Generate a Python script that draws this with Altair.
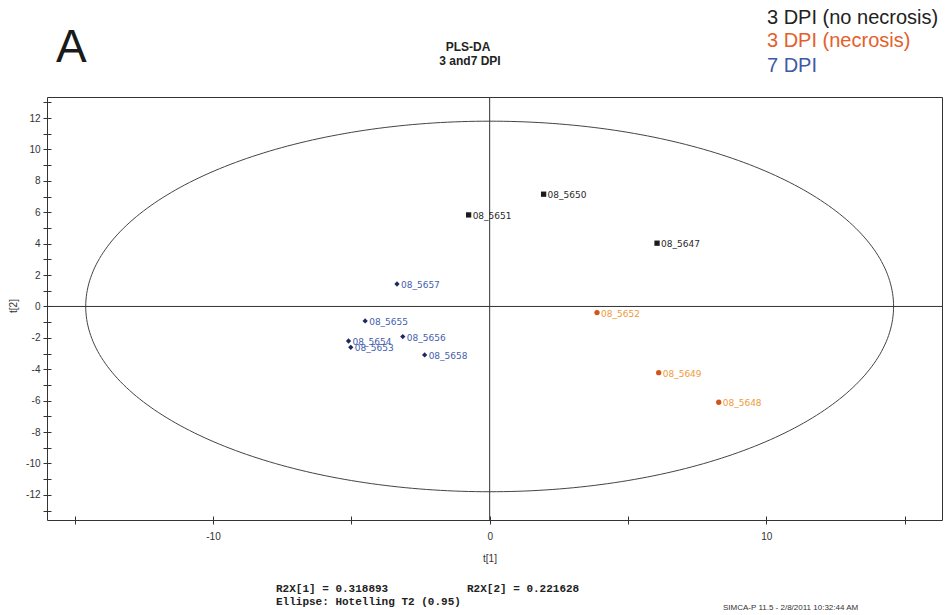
import altair as alt
import numpy as np
import pandas as pd

# Scores on the first two PLS-DA components
samples = ["08_5650", "08_5651", "08_5647",
           "08_5652", "08_5649", "08_5648",
           "08_5657", "08_5655", "08_5656", "08_5654", "08_5653", "08_5658"]
t1 = [1.95, -0.76, 6.05,
      3.88, 6.11, 8.28,
      -3.35, -4.50, -3.14, -5.10, -5.02, -2.35]
t2 = [7.15, 5.83, 4.03,
      -0.39, -4.22, -6.10,
      1.43, -0.92, -1.92, -2.20, -2.60, -3.09]
groups = (["3 DPI (no necrosis)"] * 3 + ["3 DPI (necrosis)"] * 3 + ["7 DPI"] * 6)

group_order = ["3 DPI (no necrosis)", "3 DPI (necrosis)", "7 DPI"]
marker_colors = ["#1b1b1b", "#d2541c", "#1e2a5e"]
label_colors = ["#2a2a2a", "#ef9a3c", "#4560ad"]
legend_colors = ["#222222", "#e4602a", "#3d5aa6"]
marker_shapes = ["square", "circle", "diamond"]

# Hotelling T2 (0.95) ellipse semi-axes
ell_a = 14.6
ell_b = 11.8

x_domain = [-16.0, 16.35]
y_domain = [-13.6, 13.34]
x_ticks = [-15, -10, -5, 0, 5, 10, 15]
y_ticks = list(range(-13, 14))

scores = pd.DataFrame({"sample": samples, "t1": t1, "t2": t2, "group": groups})

theta = np.linspace(0, 2 * np.pi, 361)
ellipse = pd.DataFrame({"ex": ell_a * np.cos(theta), "ey": ell_b * np.sin(theta),
                        "k": np.arange(theta.size)})

xs = alt.Scale(domain=x_domain, nice=False, zero=False)
ys = alt.Scale(domain=y_domain, nice=False, zero=False)

axis_common = dict(domain=False, offset=-4, tickSize=8, tickColor="#333333",
                   tickWidth=1, labelFont="Liberation Sans", labelFontSize=10,
                   labelColor="#333333", title=None, grid=False)

x_axis = alt.Axis(values=x_ticks,
                  labelExpr="datum.value % 10 == 0 ? '' + datum.value : ''",
                  labelPadding=7, **axis_common)
y_axis = alt.Axis(values=y_ticks,
                  labelExpr="datum.value % 2 == 0 ? '' + datum.value : ''",
                  labelPadding=3, **axis_common)


def xq(field):
    return alt.X(field, type="quantitative", scale=xs, axis=x_axis)


def yq(field):
    return alt.Y(field, type="quantitative", scale=ys, axis=y_axis)


ellipse_layer = alt.Chart(ellipse).mark_line(color="#444444", strokeWidth=1).encode(
    x=xq("ex"), y=yq("ey"), order="k:Q",
)

origin = alt.Data(values=[{"v": 0}])
vline = alt.Chart(origin).mark_rule(color="#333333", strokeWidth=1).encode(x=xq("v"))
hline = alt.Chart(origin).mark_rule(color="#333333", strokeWidth=1).encode(y=yq("v"))

points = alt.Chart(scores).mark_point(filled=True, opacity=1, size=28).encode(
    x=xq("t1"),
    y=yq("t2"),
    color=alt.Color("group:N", scale=alt.Scale(domain=group_order, range=marker_colors),
                    legend=None),
    shape=alt.Shape("group:N", scale=alt.Scale(domain=group_order, range=marker_shapes),
                    legend=None),
)

labels = alt.Chart(scores).mark_text(align="left", baseline="middle", dx=4, dy=1,
                                     font="DejaVu Sans", fontSize=9).encode(
    x=xq("t1"),
    y=yq("t2"),
    text="sample:N",
    color=alt.Color("group:N", scale=alt.Scale(domain=group_order, range=label_colors),
                    legend=None),
)


def note(text, x, y, size, color="#222222", font="Liberation Sans", weight="normal",
         align="left", baseline="middle", angle=0):
    return alt.Chart(alt.Data(values=[{}])).mark_text(
        text=text, font=font, fontSize=size, fontWeight=weight, color=color,
        align=align, baseline=baseline, angle=angle,
    ).encode(x=alt.value(x), y=alt.value(y))


notes = [
    note("A", 9, -35, 46, color="#1a1a1a", baseline="alphabetic"),
    note("PLS-DA", 421, -50, 12, weight="bold", align="center"),
    note("3 and7 DPI", 423, -36, 12, weight="bold", align="center"),
    note(group_order[0], 720, -73, 20, color=legend_colors[0], baseline="alphabetic"),
    note(group_order[1], 720, -50, 20, color=legend_colors[1], baseline="alphabetic"),
    note(group_order[2], 720, -25, 20, color=legend_colors[2], baseline="alphabetic"),
    note("t[2]", -33, 209, 10, color="#333333", align="center", angle=270),
    note("t[1]", 443, 462, 10, color="#333333", align="center"),
    note("R2X[1] = 0.318893", 229, 492, 11, font="Liberation Mono", weight="bold"),
    note("R2X[2] = 0.221628", 420, 492, 11, font="Liberation Mono", weight="bold"),
    note("Ellipse: Hotelling T2 (0.95)", 229, 505, 11, font="Liberation Mono",
         weight="bold"),
    note("SIMCA-P 11.5 - 2/8/2011 10:32:44 AM", 676, 511, 8, color="#333333"),
]

chart = alt.layer(ellipse_layer, vline, hline, points, labels, *notes).resolve_scale(
    color="independent"
).properties(
    width=895,
    height=423,
    autosize=alt.AutoSizeParams(type="none"),
    padding={"left": 47, "top": 97, "right": 10, "bottom": 95},
    background="white",
).configure_view(stroke="#333333", strokeWidth=1)

chart.save("out.html", embed_options={"renderer": "svg", "actions": False})
